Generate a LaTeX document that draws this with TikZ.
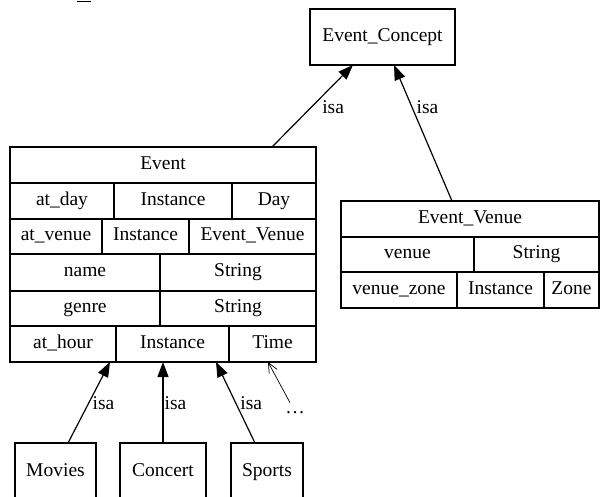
\documentclass[tikz,border=0pt]{standalone}
\usepackage{fontspec}
\setmainfont{Liberation Serif}
\usetikzlibrary{calc,arrows.meta}
\newcommand{\linethick}{1.2pt}
\newcommand{\recordcell}[6]{%
\node[cell, minimum width={#4-#2}, minimum height={#5-#3}] (#1) at ({(#2+#4)/2},{(#3+#5)/2}) {#6};}
\tikzset{
  cell/.style={draw, line width=\linethick, inner sep=0pt, outer sep=0pt, text height=13.5pt, text depth=4.5pt, font=\fontsize{19.5}{22}\selectfont},
  lbl/.style={inner sep=1pt, font=\fontsize{19.5}{22}\selectfont},
  isa/.style={-{Triangle[length=15pt,width=11pt]}, line width=\linethick},
  more/.style={-{Straight Barb[length=10pt,width=9pt]}, line width=0.7pt}
}

\begin{document}
\begin{tikzpicture}[x=1pt, y=-1pt]
\useasboundingbox (0,0) rectangle (603,497);
\clip (0,0) rectangle (603,497);
% cut off text at the top
\draw[line width=\linethick] (77,1.5) -- (91,1.5);
% concept
\recordcell{concept}{310}{9}{455}{65}{Event\_Concept}
% Event record
\recordcell{event}{10}{147}{316}{183}{Event}
\recordcell{dayA}{10}{183}{114}{219}{at\_day}
\recordcell{dayB}{114}{183}{232}{219}{Instance}
\recordcell{dayC}{232}{183}{316}{219}{Day}
\recordcell{venueA}{10}{219}{102}{254}{at\_venue}
\recordcell{venueB}{102}{219}{189}{254}{Instance}
\recordcell{venueC}{189}{219}{316}{254}{Event\_Venue}
\recordcell{nameA}{10}{254}{160}{291}{name}
\recordcell{nameB}{160}{254}{316}{291}{String}
\recordcell{genreA}{10}{291}{160}{326}{genre}
\recordcell{genreB}{160}{291}{316}{326}{String}
\recordcell{hourA}{10}{326}{116}{362}{at\_hour}
\recordcell{hourB}{116}{326}{229}{362}{Instance}
\recordcell{hourC}{229}{326}{316}{362}{Time}
% Event_Venue record
\recordcell{evvenue}{341}{201}{599}{237}{Event\_Venue}
\recordcell{vnA}{341}{237}{474}{272}{venue}
\recordcell{vnB}{474}{237}{599}{272}{String}
\recordcell{zoneA}{341}{272}{457}{308}{venue\_zone}
\recordcell{zoneB}{457}{272}{544}{308}{Instance}
\recordcell{zoneC}{544}{272}{599}{308}{Zone}
% subclasses
\recordcell{movies}{15}{443}{96}{501}{Movies}
\recordcell{concert}{120}{443}{206}{501}{Concert}
\recordcell{sports}{231}{443}{303}{501}{Sports}
\node[lbl] (dots) at (295,413) {\dots};
% isa links
\draw[isa] ([xshift=-44pt]event.north east) -- ([xshift=-29.5pt]concept.south)
  node[lbl, pos=0.49, right=9pt] {isa};
\draw[isa] ([xshift=-18pt]evvenue.north) -- ([xshift=11.5pt]concept.south)
  node[lbl, pos=0.69, right=3pt] {isa};
\draw[isa] ([xshift=12.5pt]movies.north) -- ([xshift=-6pt]hourA.south east)
  node[lbl, pos=0.49, right=2.5pt] {isa};
\draw[isa] (concert.north) -- (concert.north |- hourB.south)
  node[lbl, pos=0.49, right=0pt] {isa};
\draw[isa] ([xshift=-12pt]sports.north) -- ([xshift=-13pt]hourB.south east)
  node[lbl, pos=0.49, right=3pt] {isa};
\draw[more] ([xshift=-5pt,yshift=8pt]dots.north) -- ([xshift=-4.5pt]hourC.south);
\end{tikzpicture}
\end{document}
